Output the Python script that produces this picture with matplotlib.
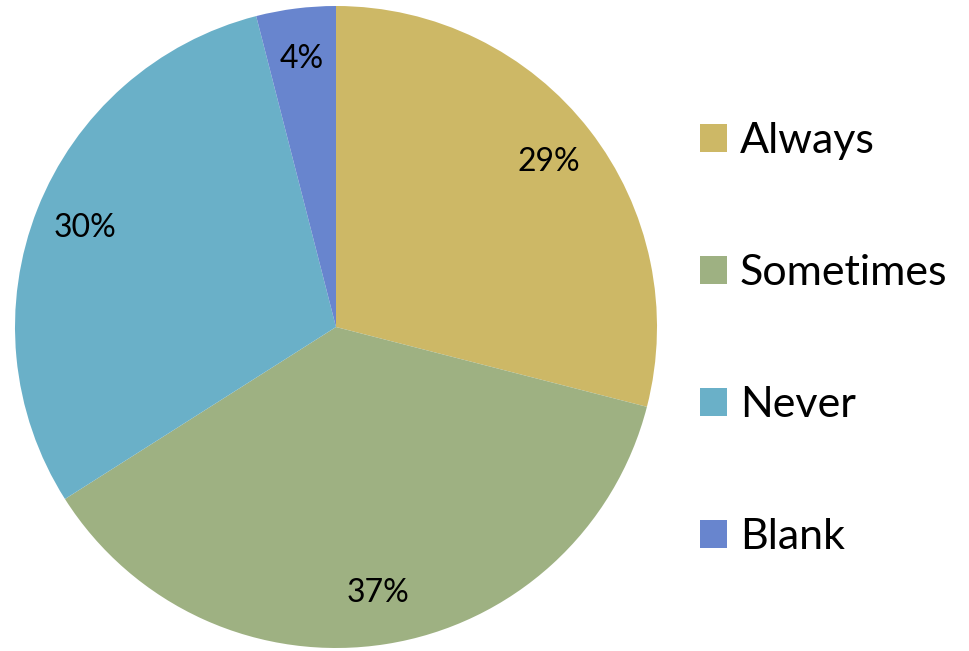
import matplotlib.pyplot as plt

plt.rcParams['font.family'] = ['Lato', 'DejaVu Sans']

# Survey responses
labels = ['Always', 'Sometimes', 'Never', 'Blank']
shares = [29, 37, 30, 4]
colors = ['#CDB866', '#9EB182', '#6AB0C8', '#6885CE']

fig = plt.figure(figsize=(9.69, 6.51), dpi=100)
ax = fig.add_axes([15 / 969, 3 / 651, 642 / 969, 642 / 651])

wedges, texts, autotexts = ax.pie(
    shares, colors=colors, startangle=90, counterclock=False,
    autopct='%d%%', pctdistance=0.84, radius=1,
    textprops={'fontsize': 23, 'color': 'black'},
)
ax.set_xlim(-1, 1)
ax.set_ylim(-1, 1)
ax.set_aspect('equal')

fig.legend(wedges, labels, loc='center left', bbox_to_anchor=(700 / 969, 0.479),
           frameon=False, fontsize=31, labelspacing=2.18, borderpad=0,
           borderaxespad=0, handlelength=0.63, handleheight=0.63,
           handletextpad=0.3)

fig.savefig('out.png', dpi=100)
